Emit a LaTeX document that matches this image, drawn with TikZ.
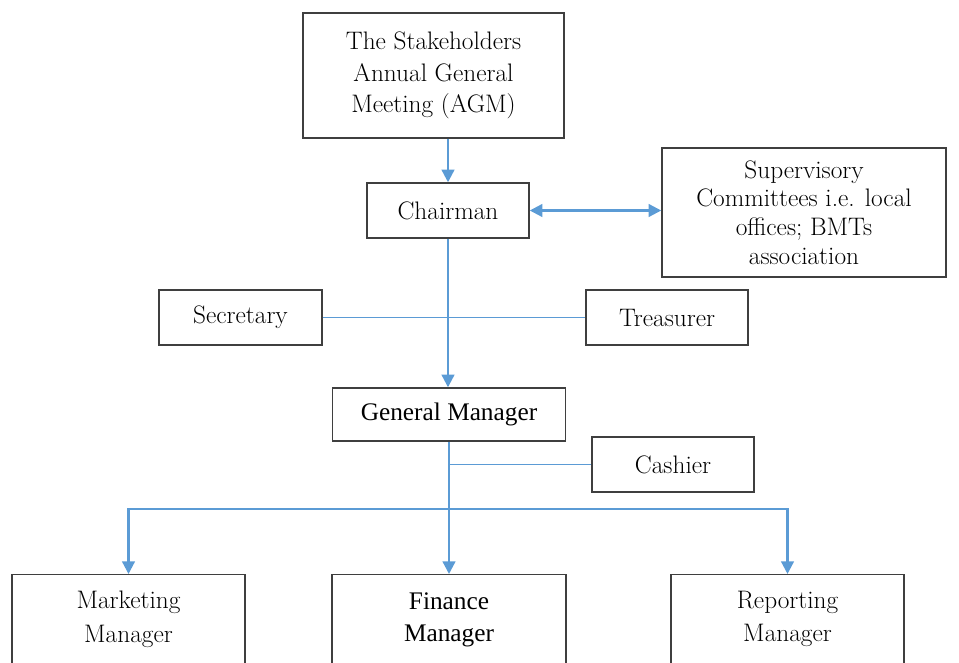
\documentclass[tikz,border=0pt]{standalone}
\usepackage{fontspec}
\usepackage{xcolor}
\usepackage{tikz}
\usetikzlibrary{arrows.meta}
\usetikzlibrary{positioning}

\newfontfamily\timesfont{Liberation Serif}
\definecolor{linkblue}{HTML}{5B9BD5}
\definecolor{boxgray}{HTML}{3F3F3F}

\begin{document}
\begin{tikzpicture}[x=0.025cm, y=-0.025cm, every text node part/.style={align=center},
  box/.style={draw=boxgray, line width=1pt, inner sep=0pt, font=\fontsize{18}{22.5}\selectfont},
  link/.style={draw=linkblue, line width=1.6pt},
  thin link/.style={draw=linkblue, line width=1pt},
  tip/.style={-{Triangle[length=9pt, width=9pt]}},
  both tips/.style={{Triangle[length=9pt, width=9pt]}-{Triangle[length=9pt, width=9pt]}}]
\useasboundingbox (0,0) rectangle (959,663);

\node (agm) [box, minimum width=6.525cm, minimum height=3.125cm] at (433.5,75.5) {The Stakeholders\\Annual General\\Meeting (AGM)};
\node (chairman) [box, minimum width=4.05cm, minimum height=1.375cm] at (448,210.5) {Chairman};
\node (supervisory committees) [box, minimum width=7.1cm, minimum height=3.225cm, font=\fontsize{18}{20.5}\selectfont] at (804,212.5) {Supervisory\\Committees i.e. local\\offices; BMTs\\association};
\node (secretary) [box, minimum width=4.075cm, minimum height=1.375cm] at (240.5,317.5) {Secretary};
\node (treasurer) [box, minimum width=4.05cm, minimum height=1.375cm] at (667,317.5) {Treasurer};
\node (general manager) [box, minimum width=5.825cm, minimum height=1.325cm, font=\timesfont\fontsize{18}{22.5}\selectfont] at (449,414.5) {General Manager};
\node (cashier) [box, minimum width=4.05cm, minimum height=1.375cm] at (673,464.5) {Cashier};

% bottom row runs off the page
\node (marketing manager) [box, anchor=north, minimum width=5.825cm, inner ysep=0.4cm, font=\fontsize{18}{24}\selectfont] at (128.5,574) {Marketing\\Manager\rule[-2cm]{0pt}{0pt}};
\node (finance manager) [box, anchor=north, minimum width=5.85cm, inner ysep=0.45cm, font=\timesfont\fontsize{18}{23}\selectfont] at (449,574) {Finance\\Manager\rule[-2cm]{0pt}{0pt}};
\node (reporting manager) [box, anchor=north, minimum width=5.825cm, inner ysep=0.4cm, font=\fontsize{18}{24}\selectfont] at (787.5,574) {Reporting\\Manager\rule[-2cm]{0pt}{0pt}};

\coordinate (branch) at (449,509);

\draw [link, tip] (chairman |- agm.south) -- (chairman.north);
\draw [link, both tips] (chairman.east) -- (chairman.east -| supervisory committees.west);
\draw [link, tip] (chairman.south) -- (chairman.south |- general manager.north);
\draw [thin link] (secretary.east) -- (treasurer.west);
\draw [thin link] (general manager.south |- cashier.west) -- (cashier.west);
\draw [link, tip] (general manager.south) -- (finance manager.north);
\draw [link, tip] (branch) -| (marketing manager.north);
\draw [link, tip] (branch) -| (reporting manager.north);

\end{tikzpicture}
\end{document}
